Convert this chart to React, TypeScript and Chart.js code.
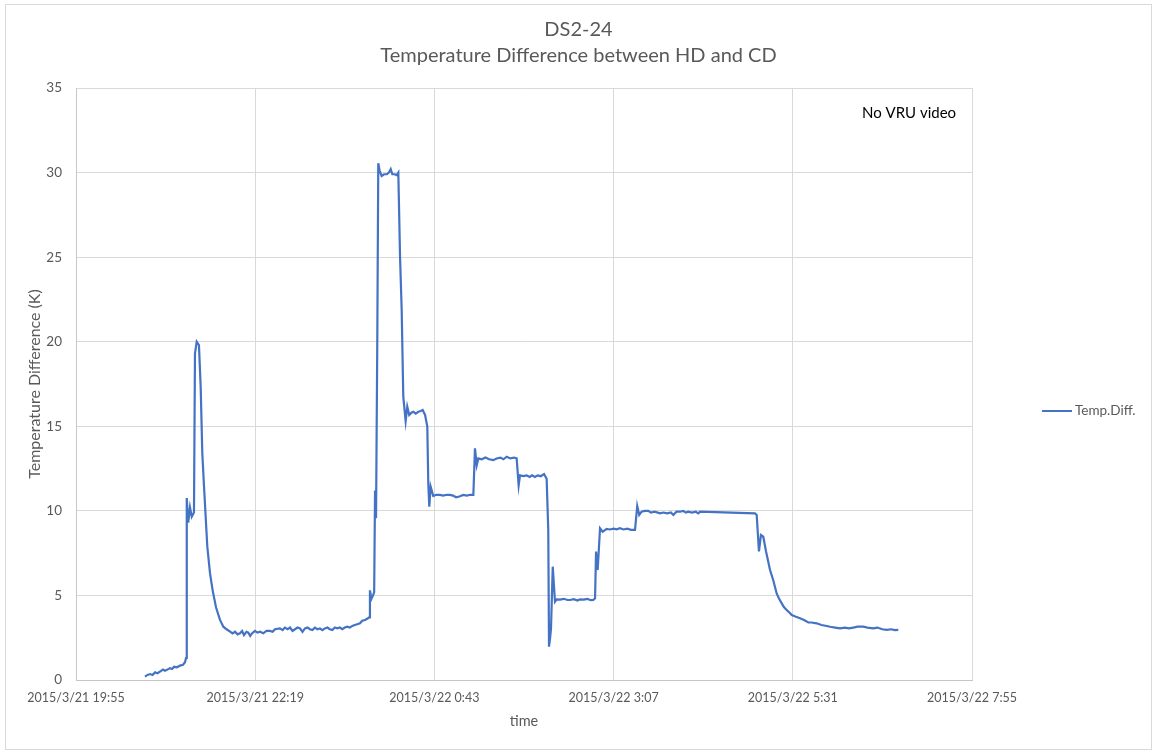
import React, { useEffect, useRef } from "react";
import { Chart, registerables } from "chart.js";

Chart.register(...registerables);

// Time axis: minutes after 2015/3/21 19:55
const startYear = 2015;
const startMonth = 3;
const startDay = 21;
const startMinuteOfDay = 19 * 60 + 55;
const xTickStep = 144;
const xMax = 720;

const chartTitle = ["DS2-24", "Temperature Difference between HD and CD"];
const seriesName = "Temp.Diff.";
const yAxisTitle = "Temperature Difference (K)";
const xAxisTitle = "time";
const noteText = "No VRU video";

const minutes = [
  55.4, 57.5, 59.5, 61.5, 63.5, 65.5, 67.5, 69.9, 71.5, 73.1, 75.5, 77.2, 78.8, 81.2, 83.6, 86.0, 87.6, 88.4,
  89.0, 90.2, 91.6, 93.0, 94.8, 95.6, 97.0, 98.8, 100.2, 101.5, 102.9, 105.5, 107.7, 109.8, 112.5, 115.7, 118.4,
  121, 123.8, 125.8, 127.8, 129.8, 131.8, 133.5, 135, 137, 138.5, 140, 141.4, 143.8, 145.8, 147.8, 150.5, 153,
  155.9, 158, 159.9, 163.9, 166, 167.9, 170, 172, 174, 176, 178, 180, 182, 184, 186, 188, 190, 192, 194, 196,
  198, 200, 202, 204, 206, 208, 210, 212, 214, 216, 218, 220, 222, 224, 226, 228.2, 230, 232.2, 234.6, 235.5,
  236.2, 237.4, 238.7, 239.6, 240.3, 241.1, 242.1, 242.9, 244, 245.6, 247.5, 249.7, 251.5, 252.9, 254.2, 256,
  257.7, 259, 260.4, 261.7, 263, 264.9, 266.2, 267.8, 269.5, 271.1, 273, 275.1, 277, 278.6, 280.5, 282.3, 283.1,
  283.9, 285, 287.1, 289.5, 292.5, 295, 298, 300.5, 303, 305.4, 308, 311.2, 314, 317, 319.3, 320.6, 322, 323.3,
  326, 329, 332, 335.3, 338, 341, 343.5, 346.1, 349, 352, 354.1, 355.7, 356.8, 359.5, 362.2, 364.5, 366.5, 368.8,
  371, 373.5, 376.1, 378.2, 379.5, 380.1, 381.0, 381.7, 383.1, 384.9, 386.3, 389, 392, 395, 397, 400, 403, 405,
  408, 411, 413.5, 415.7, 417.1, 417.9, 419.2, 421.1, 423.2, 424.8, 426.4, 429, 432, 434.5, 437.1, 440, 443, 446,
  449.2, 451, 452.6, 454.5, 457, 459.9, 462, 465, 469.3, 472, 475, 478, 480, 482.5, 485.4, 488, 490, 492, 495,
  498, 500.1, 501.4, 545.6, 547, 548.8, 550.4, 552.3, 554.5, 557.7, 560.3, 563.1, 565, 567.1, 569, 571.1, 573,
  575.2, 578, 581.8, 585, 588.5, 591, 595.2, 599, 603.3, 606, 610, 614, 618, 621, 624.7, 628, 632.7, 636, 640.7,
  644, 648, 651.5, 655, 658, 660.8,
];

const tempDiff = [
  0.2, 0.3, 0.35, 0.3, 0.45, 0.4, 0.5, 0.62, 0.55, 0.6, 0.7, 0.65, 0.78, 0.75, 0.85, 0.9, 1.05, 1.3,
  10.76, 9.3, 10.2, 9.65, 9.9, 19.3, 20.0, 19.8, 17.3, 13.4, 11.4, 7.9, 6.3, 5.3, 4.3, 3.55, 3.15,
  3.0, 2.86, 2.75, 2.85, 2.7, 2.76, 2.9, 2.65, 2.85, 2.8, 2.6, 2.75, 2.9, 2.8, 2.85, 2.76, 2.9,
  2.9, 2.85, 3.0, 3.05, 2.95, 3.1, 3.0, 3.1, 2.9, 3.0, 3.1, 3.05, 2.85, 3.05, 3.1, 3.0, 2.95, 3.1, 3.0, 3.05,
  2.95, 3.05, 3.1, 3.0, 2.95, 3.1, 3.05, 3.1, 3.0, 3.1, 3.15, 3.1, 3.2, 3.25, 3.3, 3.35, 3.5, 3.55, 3.65, 3.7,
  5.3, 4.8, 5.0, 5.2, 11.2, 9.56, 20, 30.55, 30.1, 29.8, 29.9, 29.9, 30.0, 30.2, 29.9, 29.9,
  29.85, 30.0, 25.0, 21.9, 16.75, 15.3, 16.16, 15.67, 15.8, 15.86, 15.75, 15.86, 15.9, 15.96, 15.67, 14.98, 11.6,
  10.25, 11.43, 10.88, 10.95, 10.94, 10.9, 10.95, 10.94, 10.9, 10.8, 10.85, 10.94, 10.9, 10.95, 10.94, 13.7, 12.7, 13.1,
  13.05, 13.15, 13.05, 13.0, 13.1, 13.15, 13.05, 13.2, 13.1, 13.15, 13.1, 11.5, 12.1, 12.05, 12.1, 12.0, 12.1, 12.0,
  12.1, 12.05, 12.18, 11.9, 8.87, 1.97, 2.5, 3.05, 6.7, 4.63, 4.77, 4.75, 4.8, 4.73, 4.73, 4.78, 4.7, 4.77,
  4.75, 4.8, 4.72, 4.73, 4.83, 7.59, 6.5, 8.97, 8.77, 8.85, 8.93, 8.9, 8.95, 8.91, 8.97, 8.9, 8.95, 8.88,
  8.87, 10.29, 9.76, 9.95, 10.0, 10.0, 9.9, 9.95, 9.85, 9.9, 9.85, 9.9, 9.76, 9.95, 9.95, 10.0, 9.9, 9.95, 9.9,
  9.95, 9.85, 9.95, 9.85, 9.76, 7.6, 8.57, 8.47, 7.6, 6.5, 5.9, 5.1, 4.8, 4.53, 4.3, 4.14, 4.0,
  3.84, 3.75, 3.65, 3.55, 3.4, 3.4, 3.35, 3.25, 3.19, 3.15, 3.1, 3.05, 3.1, 3.05, 3.1, 3.15, 3.15, 3.1, 3.05,
  3.1, 3.0, 2.96, 3.0, 2.95, 2.96,
];

const yMin = 0;
const yMax = 35;
const yStep = 5;

const FONT = "Lato";
const TEXT_GREY = "#595959";
const GRID = "#d9d9d9";
const LINE_BLUE = "#4472C4";

function formatTick(v: number): string {
  const total = startMinuteOfDay + Math.round(v);
  const day = startDay + Math.floor(total / 1440);
  const mod = total % 1440;
  const h = Math.floor(mod / 60);
  const m = mod % 60;
  return `${startYear}/${startMonth}/${day} ${h}:${m < 10 ? "0" + m : m}`;
}

const extrasPlugin = {
  id: "extras",
  afterDraw(chart: any) {
    const ctx = chart.ctx;
    ctx.save();
    // legend
    ctx.strokeStyle = LINE_BLUE;
    ctx.lineWidth = 2;
    ctx.beginPath();
    ctx.moveTo(1042, 411);
    ctx.lineTo(1072, 411);
    ctx.stroke();
    ctx.fillStyle = TEXT_GREY;
    ctx.font = `13.5px ${FONT}`;
    ctx.textBaseline = "middle";
    ctx.textAlign = "left";
    ctx.fillText(seriesName, 1075, 411);
    // note
    ctx.fillStyle = "#000000";
    ctx.font = `15px ${FONT}`;
    ctx.fillText(noteText, 862, 113);
    ctx.restore();
  },
};

export default function App() {
  const canvasRef = useRef<HTMLCanvasElement | null>(null);

  useEffect(() => {
    if (!canvasRef.current) return;
    const points = minutes.map((x, i) => ({ x, y: tempDiff[i] }));
    const chart = new Chart(canvasRef.current, {
      type: "line",
      data: {
        datasets: [
          {
            label: seriesName,
            data: points,
            borderColor: LINE_BLUE,
            backgroundColor: LINE_BLUE,
            borderWidth: 2.2,
            pointRadius: 0,
            tension: 0,
            fill: false,
          },
        ],
      },
      options: {
        animation: false,
        responsive: false,
        layout: { padding: 0 },
        plugins: {
          legend: { display: false },
          tooltip: { enabled: false },
          title: {
            display: true,
            text: chartTitle,
            color: TEXT_GREY,
            font: { family: FONT, size: 20, weight: "normal", lineHeight: 26 / 20 },
            padding: { top: 17, bottom: 19 },
          },
        },
        scales: {
          x: {
            type: "linear",
            min: 0,
            max: xMax,
            afterFit: (s: any) => {
              s.height = 76;
            },
            afterBuildTicks: (s: any) => {
              const t = [];
              for (let v = 0; v <= xMax; v += xTickStep) t.push({ value: v });
              s.ticks = t;
            },
            ticks: {
              stepSize: xTickStep,
              autoSkip: false,
              maxRotation: 0,
              minRotation: 0,
              padding: 10,
              color: TEXT_GREY,
              font: { family: FONT, size: 12.5 },
              callback: (v: any) => formatTick(Number(v)),
            },
            grid: { color: GRID, drawTicks: false },
            border: { color: "#c6c6c6" },
            title: {
              display: true,
              text: xAxisTitle,
              color: TEXT_GREY,
              font: { family: FONT, size: 14.5 },
              padding: { top: 0, bottom: 26 },
            },
          },
          y: {
            min: yMin,
            max: yMax,
            afterFit: (s: any) => {
              s.width = 76;
            },
            ticks: {
              stepSize: yStep,
              padding: 14,
              color: TEXT_GREY,
              font: { family: FONT, size: 13.5 },
            },
            grid: { color: GRID, drawTicks: false },
            border: { color: "#c6c6c6" },
            title: {
              display: true,
              text: yAxisTitle,
              color: TEXT_GREY,
              font: { family: FONT, size: 16 },
              padding: { top: 25, bottom: 0 },
            },
          },
          legendSpace: {
            type: "linear",
            position: "right",
            afterFit: (s: any) => {
              s.width = 185;
            },
            ticks: { display: false },
            grid: { display: false, drawTicks: false },
            border: { display: false },
          },
        },
      },
      plugins: [extrasPlugin],
    });
    return () => chart.destroy();
  }, []);

  return (
    <div style={{ position: "absolute", left: 0, top: 0, width: 1157, height: 756, background: "#fff" }}>
      <canvas ref={canvasRef} width={1157} height={756} style={{ display: "block" }} />
      <div
        style={{
          position: "absolute",
          left: 5,
          top: 4,
          width: 1147,
          height: 746,
          border: `1px solid ${GRID}`,
          boxSizing: "border-box",
          pointerEvents: "none",
        }}
      />
    </div>
  );
}
